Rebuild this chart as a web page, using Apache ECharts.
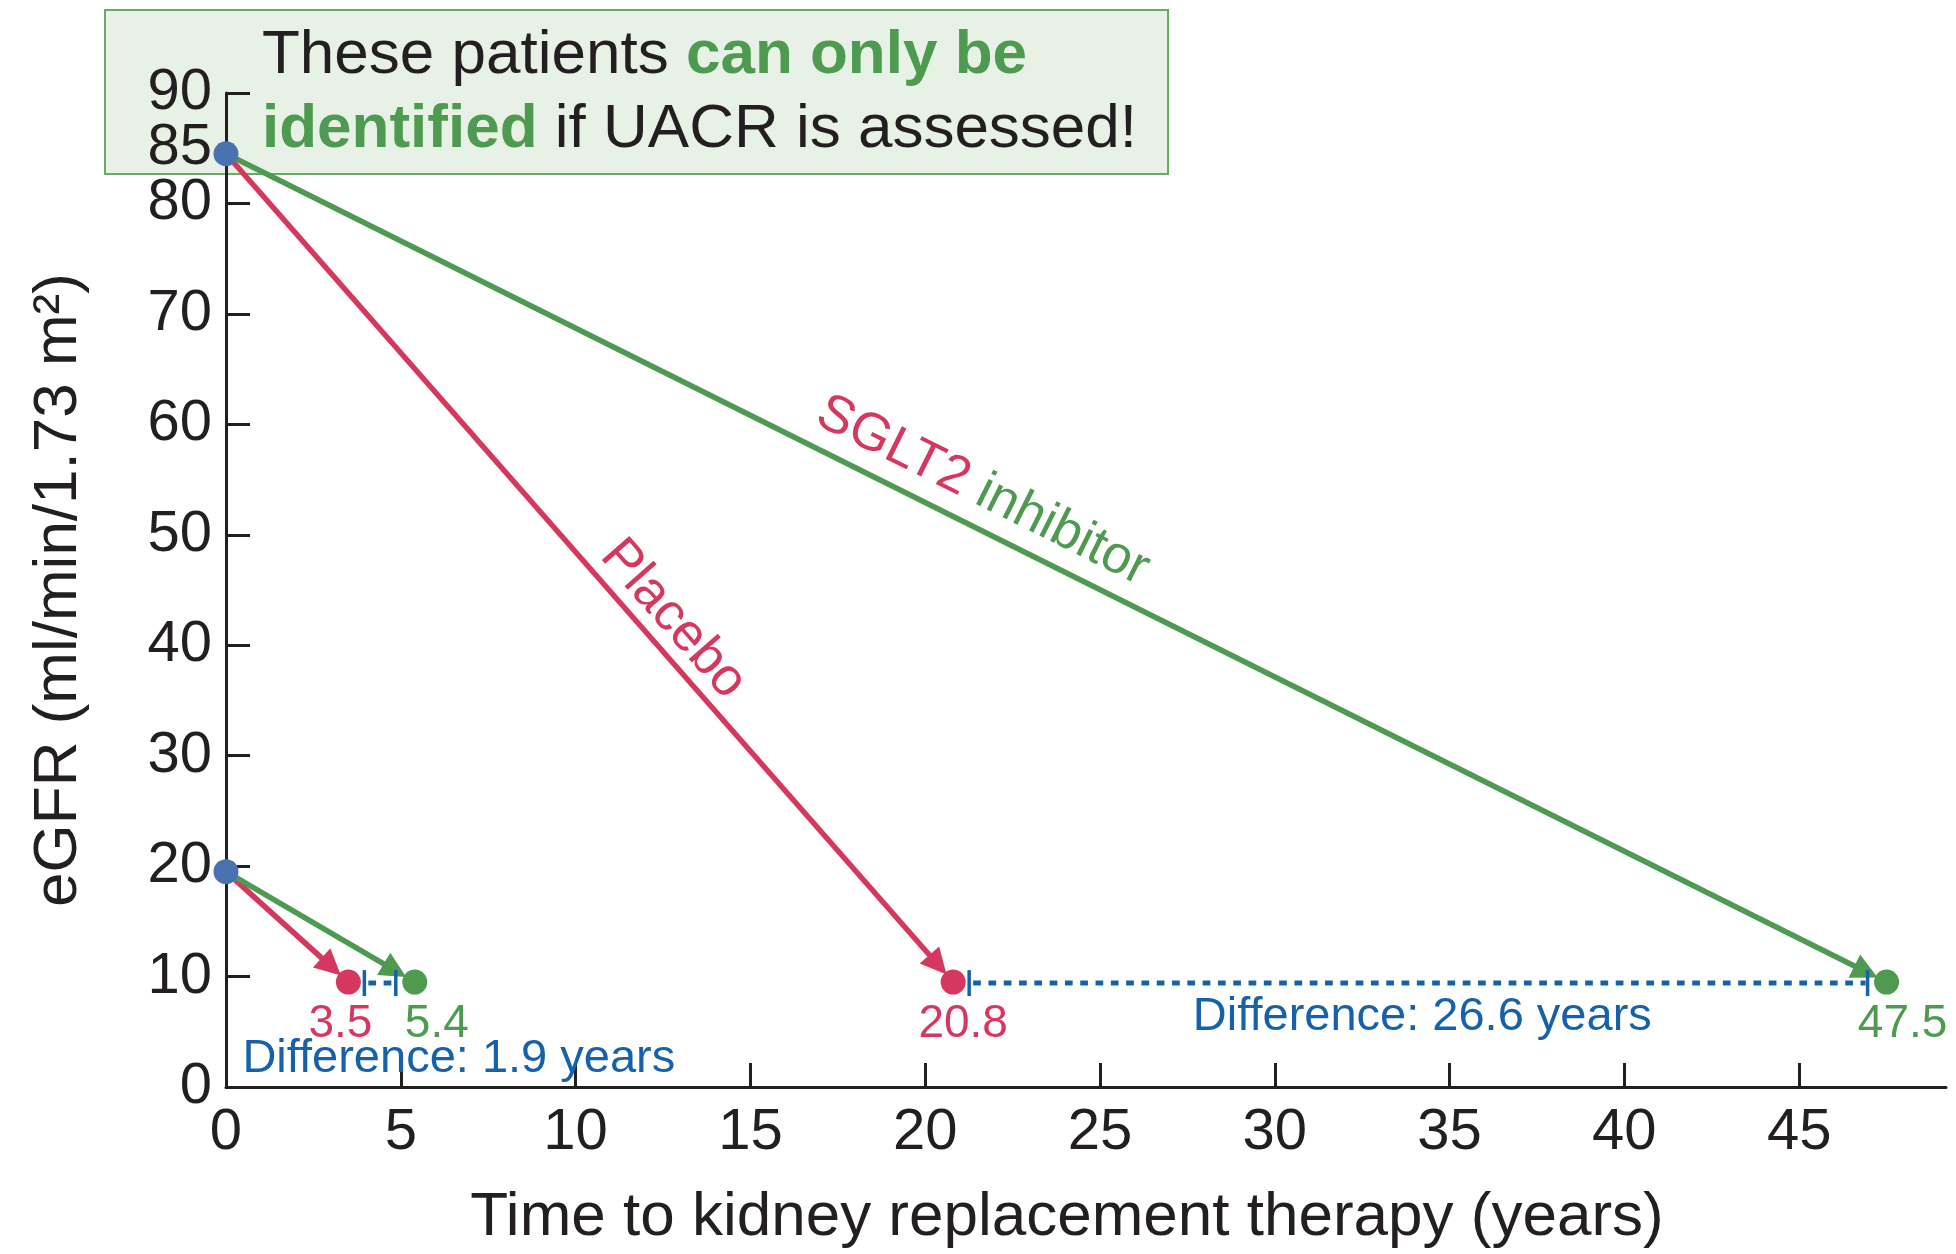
<!DOCTYPE html>
<html>
<head>
<meta charset="utf-8">
<style>
html,body{margin:0;padding:0;background:#ffffff;}
#chart{width:1956px;height:1254px;}
</style>
<script src="https://cdn.jsdelivr.net/npm/echarts@6.0.0/dist/echarts.min.js"></script>
</head>
<body>
<div id="chart"></div>
<script>
// ---------------- data ----------------
const scenarios = ['Start eGFR 85', 'Start eGFR 20'];
const startEGFR = [84.5, 19.5];          // plotted eGFR at time 0 (ml/min/1.73 m2)
const krtEGFR = [9.5, 9.5];              // eGFR when kidney replacement therapy starts
const placeboYears = [20.8, 3.5];        // time to KRT, placebo
const sglt2Years = [47.5, 5.4];          // time to KRT, SGLT2 inhibitor
const differenceYears = [26.6, 1.9];     // SGLT2 - placebo
const xLabelValues = [0, 5, 10, 15, 20, 25, 30, 35, 40, 45];
const xTickValues = [5, 10, 15, 20, 25, 30, 35, 40, 45];
const yLabelValues = [0, 10, 20, 30, 40, 50, 60, 70, 80, 90];
const yExtraLabelValues = [85];
const yTickValues = [10, 20, 30, 40, 50, 60, 70, 80, 90];
const lineLabels = ['Placebo', 'SGLT2', 'inhibitor'];

// ---------------- styles / placement ----------------
const FONT = "'Liberation Sans', Arial, Helvetica, sans-serif";
const INK = '#231F20';
const RED = '#D6375E';
const GREEN = '#4E9A50';
const BLUE_DOT = '#4A72B0';
const BLUE = '#1662AA';
const BOX_FILL = '#E8F1E5';
const BOX_STROKE = '#69AA68';

// label anchors along lines: fraction of the line, perpendicular pixel offset
const lineLabelPlacement = [{ t: 0.585, off: 29 }, { t: 0.446, off: 36 }];
// difference notes anchors (data units)
const diffNoteAnchor = [[34.22, 6.32], [6.66, 2.53]];
const placeboLabelOffset = [[10, 42], [-8, 42]];
const sglt2LabelOffset = [[16, 42], [22, 42]];

// ---------------- derived series data ----------------
const arrowData = [];
scenarios.forEach((s, i) => {
  arrowData.push([0, startEGFR[i], placeboYears[i], krtEGFR[i], 0]);
  arrowData.push([0, startEGFR[i], sglt2Years[i], krtEGFR[i], 1]);
});
const bracketData = scenarios.map((s, i) => [placeboYears[i], krtEGFR[i], sglt2Years[i]]);
const startData = scenarios.map((s, i) => [0, startEGFR[i]]);
const placeboEndData = scenarios.map((s, i) => ({
  value: [placeboYears[i], krtEGFR[i]],
  label: { offset: placeboLabelOffset[i] }
}));
const sglt2EndData = scenarios.map((s, i) => ({
  value: [sglt2Years[i], krtEGFR[i]],
  label: { offset: sglt2LabelOffset[i] }
}));
const lineLabelData = [
  [0, startEGFR[0], placeboYears[0], krtEGFR[0], 0],
  [0, startEGFR[0], sglt2Years[0], krtEGFR[0], 1]
];
const diffNoteData = scenarios.map((s, i) => [diffNoteAnchor[i][0], diffNoteAnchor[i][1], i]);
const extraLabelData = yExtraLabelValues.map(v => [0, v]);

const arrowColors = [RED, GREEN];

const chart = echarts.init(document.getElementById('chart'), null, { renderer: 'canvas' });

const option = {
  backgroundColor: '#ffffff',
  animation: false,
  textStyle: { fontFamily: FONT },
  grid: { left: 226, right: 10, top: 93, bottom: 164, containLabel: false },
  graphic: [
    {
      type: 'rect', z: -5,
      shape: { x: 105, y: 10, width: 1063, height: 164 },
      style: { fill: BOX_FILL, stroke: BOX_STROKE, lineWidth: 2 }
    },
    {
      type: 'text', z: 50, x: 262, y: 19,
      style: {
        text: '{n|These patients }{g|can only be}\n{g|identified}{n| if UACR is assessed!}',
        verticalAlign: 'top', align: 'left',
        rich: {
          n: { fontSize: 62, fontFamily: FONT, fill: INK, lineHeight: 74 },
          g: { fontSize: 62, fontFamily: FONT, fontWeight: 'bold', fill: GREEN, lineHeight: 74 }
        }
      }
    }
  ],
  xAxis: {
    type: 'value', min: 0, max: 49.2, interval: 5,
    axisLine: { show: true, onZero: false, lineStyle: { color: INK, width: 3 } },
    axisTick: { show: true, inside: true, length: 24, customValues: xTickValues, lineStyle: { color: INK, width: 3 } },
    axisLabel: { customValues: xLabelValues, fontSize: 58, color: INK, margin: 17, fontFamily: FONT,
      showMinLabel: true, showMaxLabel: true, hideOverlap: false },
    splitLine: { show: false },
    name: 'Time to kidney replacement therapy (years)',
    nameLocation: 'middle', nameGap: 100,
    nameTextStyle: { fontSize: 62, color: INK, fontFamily: FONT, padding: [0, 38, 0, 0] }
  },
  yAxis: {
    type: 'value', min: 0, max: 90, interval: 10,
    axisLine: { show: true, onZero: false, lineStyle: { color: INK, width: 3 } },
    axisTick: { show: true, inside: true, length: 24, customValues: yTickValues, lineStyle: { color: INK, width: 3 } },
    axisLabel: { customValues: yLabelValues, fontSize: 58, color: INK, margin: 14, fontFamily: FONT,
      showMinLabel: true, showMaxLabel: true, hideOverlap: false },
    splitLine: { show: false },
    name: 'eGFR (ml/min/1.73 m²)',
    nameLocation: 'middle', nameGap: 136, nameRotate: 90,
    nameTextStyle: { fontSize: 62, color: INK, fontFamily: FONT }
  },
  series: [
    {
      type: 'custom', name: 'extra y labels', z: 2,
      coordinateSystem: 'cartesian2d',
      data: extraLabelData,
      renderItem: function (params, api) {
        const p = api.coord([api.value(0), api.value(1)]);
        return {
          type: 'text', x: p[0] - 14, y: p[1],
          style: {
            text: String(api.value(1)), align: 'right', verticalAlign: 'middle',
            fontSize: 58, fontFamily: FONT, fill: INK
          }
        };
      }
    },
    {
      type: 'custom', name: 'arrows', z: 3,
      coordinateSystem: 'cartesian2d',
      encode: { x: [0, 2], y: [1, 3] },
      data: arrowData,
      renderItem: function (params, api) {
        const p0 = api.coord([api.value(0), api.value(1)]);
        const p1 = api.coord([api.value(2), api.value(3)]);
        const color = arrowColors[api.value(4)];
        const dx = p1[0] - p0[0], dy = p1[1] - p0[1];
        const L = Math.hypot(dx, dy);
        const ux = dx / L, uy = dy / L;
        const gap = 10, headLen = 26, hw = 13;
        const tip = [p1[0] - ux * gap, p1[1] - uy * gap];
        const base = [tip[0] - ux * headLen, tip[1] - uy * headLen];
        const nx = -uy, ny = ux;
        return {
          type: 'group',
          children: [
            { type: 'line', shape: { x1: p0[0], y1: p0[1], x2: base[0] + ux * 4, y2: base[1] + uy * 4 },
              style: { stroke: color, lineWidth: 5.5 } },
            { type: 'polygon', shape: { points: [tip, [base[0] + nx * hw, base[1] + ny * hw], [base[0] - nx * hw, base[1] - ny * hw]] },
              style: { fill: color } }
          ]
        };
      }
    },
    {
      type: 'custom', name: 'difference', z: 3,
      coordinateSystem: 'cartesian2d',
      encode: { x: [0, 2], y: 1 },
      data: bracketData,
      renderItem: function (params, api) {
        const a = api.coord([api.value(0), api.value(1)]);
        const b = api.coord([api.value(2), api.value(1)]);
        const x1 = a[0] + 16, x2 = b[0] - 19, y = a[1] + 1;
        return {
          type: 'group',
          children: [
            { type: 'line', shape: { x1: x1 + 4, y1: y, x2: x2 - 2, y2: y },
              style: { stroke: BLUE, lineWidth: 5, lineDash: [7.7, 7.6] } },
            { type: 'rect', shape: { x: x1 - 1.75, y: y - 13, width: 3.5, height: 26 }, style: { fill: BLUE } },
            { type: 'rect', shape: { x: x2 - 1.75, y: y - 13, width: 3.5, height: 26 }, style: { fill: BLUE } }
          ]
        };
      }
    },
    {
      type: 'scatter', name: 'start', z: 6, symbolSize: 25,
      itemStyle: { color: BLUE_DOT, opacity: 1 },
      data: startData
    },
    {
      type: 'scatter', name: 'Placebo', z: 6, symbolSize: 25,
      itemStyle: { color: RED, opacity: 1 },
      label: { show: true, position: 'inside', fontSize: 46, color: RED, fontFamily: FONT,
        formatter: p => p.value[0].toFixed(1) },
      data: placeboEndData
    },
    {
      type: 'scatter', name: 'SGLT2 inhibitor', z: 6, symbolSize: 25,
      itemStyle: { color: GREEN, opacity: 1 },
      label: { show: true, position: 'inside', fontSize: 46, color: GREEN, fontFamily: FONT,
        formatter: p => p.value[0].toFixed(1) },
      data: sglt2EndData
    },
    {
      type: 'custom', name: 'line labels', z: 4,
      coordinateSystem: 'cartesian2d',
      encode: { x: [0, 2], y: [1, 3] },
      data: lineLabelData,
      renderItem: function (params, api) {
        const p0 = api.coord([api.value(0), api.value(1)]);
        const p1 = api.coord([api.value(2), api.value(3)]);
        const k = api.value(4);
        const pl = lineLabelPlacement[k];
        const dx = p1[0] - p0[0], dy = p1[1] - p0[1];
        const ang = Math.atan2(dy, dx);
        const nx = Math.sin(ang), ny = -Math.cos(ang);
        const cx = p0[0] + dx * pl.t + nx * pl.off;
        const cy = p0[1] + dy * pl.t + ny * pl.off;
        const txt = k === 0 ? '{r|' + lineLabels[0] + '}' : '{r|' + lineLabels[1] + ' }{g|' + lineLabels[2] + '}';
        return {
          type: 'text', x: cx, y: cy, rotation: -ang,
          style: {
            text: txt, align: 'center', verticalAlign: 'middle',
            rich: {
              r: { fontSize: 53, fontFamily: FONT, fill: RED },
              g: { fontSize: 53, fontFamily: FONT, fill: GREEN }
            }
          }
        };
      }
    },
    {
      type: 'custom', name: 'difference notes', z: 4,
      coordinateSystem: 'cartesian2d',
      data: diffNoteData,
      renderItem: function (params, api) {
        const p = api.coord([api.value(0), api.value(1)]);
        const i = api.value(2);
        return {
          type: 'text', x: p[0], y: p[1],
          style: {
            text: 'Difference: ' + differenceYears[i].toFixed(1) + ' years',
            align: 'center', verticalAlign: 'middle',
            fontSize: 47, fontFamily: FONT, fill: BLUE
          }
        };
      }
    }
  ]
};

chart.setOption(option);
</script>
</body>
</html>
